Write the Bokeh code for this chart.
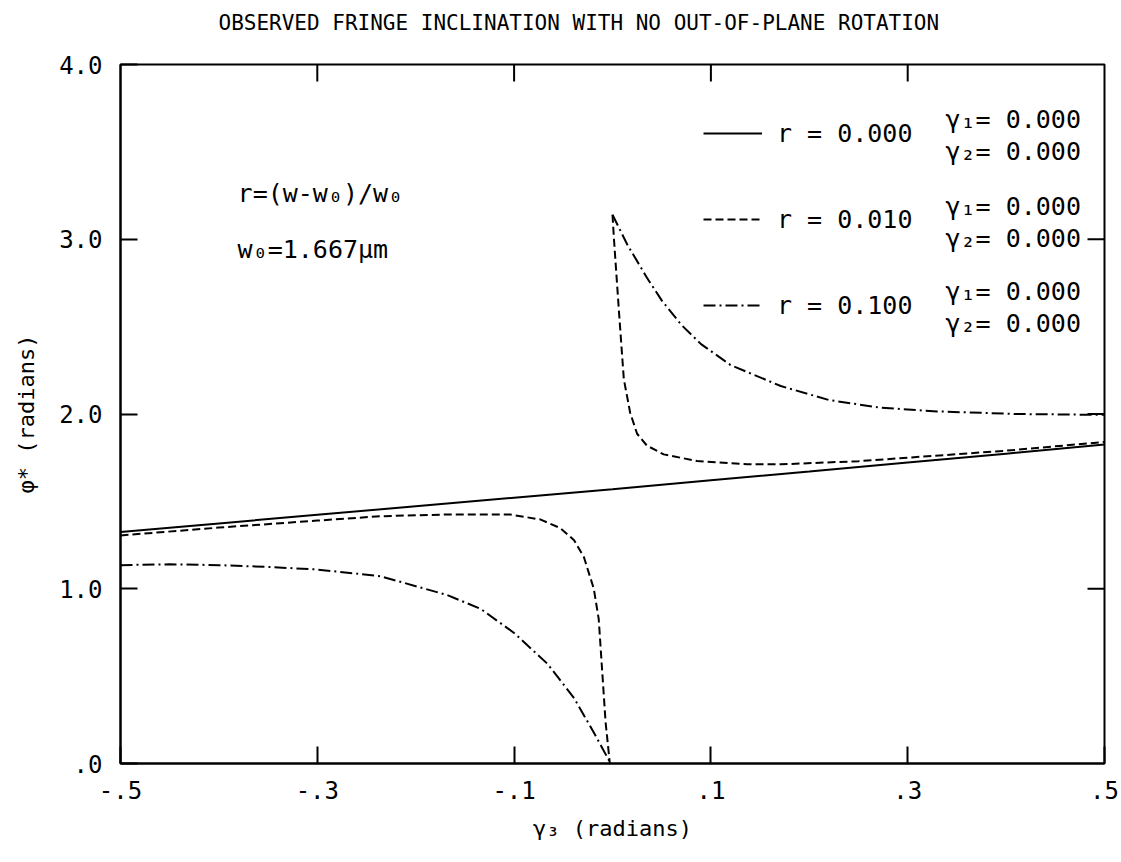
import math
from bokeh.plotting import figure
from bokeh.models import FixedTicker, Legend, LegendItem, Label, Range1d
from bokeh.embed import file_html
from bokeh.resources import INLINE

nan = float("nan")

# ---- data ----
title_text = "OBSERVED FRINGE INCLINATION WITH NO OUT-OF-PLANE ROTATION"
x_ticks = [-0.5, -0.3, -0.1, 0.1, 0.3, 0.5]
x_tick_labels = ["-.5", "-.3", "-.1", ".1", ".3", ".5"]
y_ticks = [0, 1, 2, 3, 4]
y_tick_labels = [".0", "1.0", "2.0", "3.0", "4.0"]

# r = 0.000 (solid)
g3_r000 = [-0.5, -0.4, -0.3, -0.2, -0.1, 0.0, 0.1, 0.2, 0.3, 0.4, 0.5]
phi_r000 = [1.325, 1.374, 1.423, 1.472, 1.521, 1.570, 1.621, 1.671, 1.722, 1.773, 1.825]

# r = 0.010 (dashed) - two branches separated by a gap
g3_r010 = [-0.5, -0.4, -0.3, -0.236, -0.168, -0.104, -0.073, -0.053, -0.039, -0.029,
           -0.019, -0.014, -0.0105, -0.007, -0.0027,
           nan,
           0.0, 0.0015, 0.0064, 0.0115, 0.018, 0.025, 0.035, 0.052, 0.086, 0.137,
           0.171, 0.25, 0.3, 0.4, 0.5]
phi_r010 = [1.305, 1.35, 1.39, 1.415, 1.425, 1.425, 1.396, 1.347, 1.278, 1.18,
            1.0, 0.826, 0.53, 0.235, 0.0,
            nan,
            3.14, 3.0, 2.60, 2.20, 2.006, 1.887, 1.819, 1.769, 1.731, 1.712,
            1.712, 1.73, 1.75, 1.79, 1.84]

# r = 0.100 (dash-dot)
g3_r100 = [-0.5, -0.45, -0.4, -0.35, -0.3, -0.236, -0.168, -0.134, -0.100, -0.066,
           -0.039, -0.019, -0.0038, -0.0027,
           nan,
           0.0, 0.015, 0.035, 0.050, 0.070, 0.090, 0.12, 0.171, 0.22, 0.272, 0.33, 0.41, 0.5]
phi_r100 = [1.135, 1.14, 1.135, 1.125, 1.11, 1.072, 0.964, 0.885, 0.747, 0.570,
            0.374, 0.177, 0.02, 0.0,
            nan,
            3.14, 2.97, 2.78, 2.65, 2.51, 2.40, 2.28, 2.16, 2.08, 2.036, 2.015, 2.0, 1.995]

r_labels = ["r = 0.000", "r = 0.010", "r = 0.100"]
gamma1_labels = ["γ₁= 0.000", "γ₁= 0.000", "γ₁= 0.000"]
gamma2_labels = ["γ₂= 0.000", "γ₂= 0.000", "γ₂= 0.000"]

FONT = "DejaVu Sans Mono"
X0, X1 = x_ticks[0], x_ticks[-1]
Y0, Y1 = y_ticks[0], y_ticks[-1]

p = figure(width=1121, height=862, x_range=Range1d(X0, X1), y_range=Range1d(Y0, Y1),
           output_backend="svg", toolbar_location=None,
           min_border_left=120, min_border_right=17, min_border_top=64, min_border_bottom=99)
p.grid.visible = False
p.background_fill_color = "white"
p.border_fill_color = "white"
p.outline_line_color = "black"
p.outline_line_width = 2

# a blank second line lifts the title away from the frame
p.title.text = title_text + "\n "
p.title.align = "left"
p.title.offset = 98
p.title.standoff = 12
p.title.text_font = FONT
p.title.text_font_size = "21px"
p.title.text_font_style = "normal"
p.title.text_color = "black"
p.title.text_line_height = 1.0


def style_axis(ax, ticks, labels):
    ax.ticker = FixedTicker(ticks=ticks)
    ax.major_tick_in = 17
    ax.major_tick_out = 0
    ax.minor_tick_line_color = None
    ax.axis_line_width = 2
    ax.major_tick_line_width = 2
    ax.major_label_overrides = {t: l for t, l in zip(ticks, labels)}
    ax.major_label_text_font = FONT
    ax.major_label_text_font_size = "24px"
    ax.major_label_text_color = "black"
    ax.axis_label_text_font = FONT
    ax.axis_label_text_font_style = "normal"
    ax.axis_label_text_font_size = "22px"
    ax.axis_label_text_color = "black"


style_axis(p.xaxis[0], x_ticks, x_tick_labels)
style_axis(p.yaxis[0], y_ticks, y_tick_labels)
p.xaxis[0].major_label_standoff = 17
p.yaxis[0].major_label_standoff = 18
p.xaxis[0].axis_label = "γ₃ (radians)"
p.yaxis[0].axis_label = "φ* (radians)"
p.xaxis[0].axis_label_standoff = 14
p.yaxis[0].axis_label_standoff = 17

# inward ticks on the top and right edges of the frame
top_x = x_ticks[1:-1]
p.ray(x=top_x, y=[Y1] * len(top_x), length=17, length_units="screen",
      angle=-math.pi / 2, line_color="black", line_width=2)
right_y = y_ticks[1:-1]
p.ray(x=[X1] * len(right_y), y=right_y, length=17, length_units="screen",
      angle=math.pi, line_color="black", line_width=2)

l0 = p.line(g3_r000, phi_r000, line_color="black", line_width=2)
l1 = p.line(g3_r010, phi_r010, line_color="black", line_width=2, line_dash="8 4")
l2 = p.line(g3_r100, phi_r100, line_color="black", line_width=2, line_dash="12 4 2 4")

legend = Legend(items=[LegendItem(label=r_labels[0], renderers=[l0]),
                       LegendItem(label=r_labels[1], renderers=[l1]),
                       LegendItem(label=r_labels[2], renderers=[l2])],
                location=(583, 443), orientation="vertical",
                glyph_width=59, glyph_height=30, label_height=30, spacing=56,
                label_standoff=15, padding=0, margin=0,
                border_line_color=None, background_fill_alpha=0,
                label_text_font=FONT, label_text_font_size="25px", label_text_color="black")
p.add_layout(legend, "center")

gx = 0.3384
g1_y = [3.686, 3.189, 2.703]
g2_y = [3.503, 3.006, 2.520]
for i in range(3):
    p.add_layout(Label(x=gx, y=g1_y[i], text=gamma1_labels[i], text_font=FONT,
                       text_font_size="25px", text_baseline="middle", text_color="black"))
    p.add_layout(Label(x=gx, y=g2_y[i], text=gamma2_labels[i], text_font=FONT,
                       text_font_size="25px", text_baseline="middle", text_color="black"))

p.add_layout(Label(x=-0.381, y=3.263, text="r=(w-w₀)/w₀", text_font=FONT,
                   text_font_size="25px", text_baseline="middle", text_color="black"))
p.add_layout(Label(x=-0.381, y=2.943, text="w₀=1.667µm", text_font=FONT,
                   text_font_size="25px", text_baseline="middle", text_color="black"))

open("out.html", "w").write(file_html(p, INLINE))
